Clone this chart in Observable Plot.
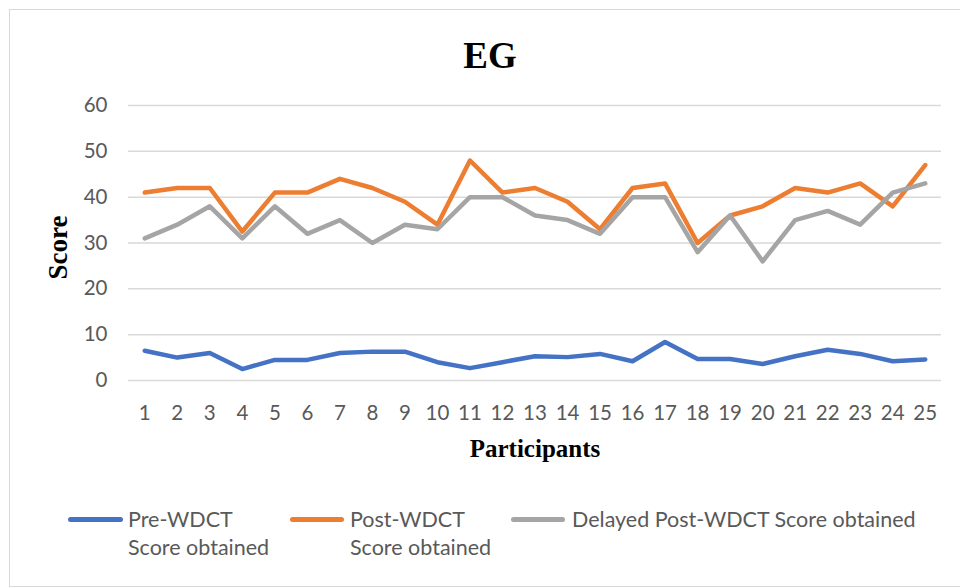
<!DOCTYPE html>
<html>
<head>
<meta charset="utf-8">
<script src="https://cdn.jsdelivr.net/npm/d3@7"></script>
<script src="https://cdn.jsdelivr.net/npm/@observablehq/plot@0.6"></script>
<style>
  body { margin: 0; background: #fff; }
  #wrap { position: relative; width: 960px; height: 587px; overflow: hidden; background: #fff; }
  #frame { position: absolute; left: 9px; top: 9px; width: 970px; height: 578px; border: 1px solid #d9d9d9; box-sizing: border-box; }
  .serif { position: absolute; font-family: "Liberation Serif", "Times New Roman", serif; font-weight: bold; color: #000; white-space: nowrap; }
  .leg { position: absolute; font-family: Lato, sans-serif; font-size: 21.5px; line-height: 28px; color: #595959; white-space: nowrap; }
  .swatch { position: absolute; height: 5px; border-radius: 3px; }
  #chart { position: absolute; left: 0; top: 0; }
</style>
</head>
<body>
<div id="wrap">
  <div id="frame"></div>
  <div id="chart"></div>
</div>
<script>
const participants = [1,2,3,4,5,6,7,8,9,10,11,12,13,14,15,16,17,18,19,20,21,22,23,24,25];
const preScores = [6.5,5,6,2.5,4.5,4.5,6,6.3,6.3,4,2.7,4,5.3,5.1,5.8,4.2,8.4,4.7,4.7,3.6,5.3,6.7,5.8,4.2,4.6];
const postScores = [41,42,42,32.5,41,41,44,42,39,34,48,41,42,39,33,42,43,30,36,38,42,41,43,38,47];
const delayedScores = [31,34,38,31,38,32,35,30,34,33,40,40,36,35,32,40,40,28,36,26,35,37,34,41,43];
const yTicks = [0,10,20,30,40,50,60];
const seriesNames = ["Pre-WDCT Score obtained", "Post-WDCT Score obtained", "Delayed Post-WDCT Score obtained"];
const legendLines = [["Pre-WDCT", "Score obtained"], ["Post-WDCT", "Score obtained"], ["Delayed Post-WDCT Score obtained"]];
const seriesColors = ["#4472C4", "#ED7D31", "#A5A5A5"];
const titleText = "EG";
const xLabel = "Participants";
const yLabel = "Score";

const allSeries = [preScores, postScores, delayedScores];
const rows = allSeries.flatMap((vals, si) => vals.map((v, i) => ({series: seriesNames[si], p: participants[i], v})));

const plot = Plot.plot({
  width: 960,
  height: 480,
  marginTop: 105,
  marginBottom: 100,
  marginLeft: 128,
  marginRight: 19,
  style: {fontFamily: "Lato, sans-serif", fontSize: "20px", color: "#595959", background: "transparent"},
  x: {type: "point", domain: participants, padding: 0.5, round: false, label: null},
  y: {domain: [0, 60], ticks: yTicks, label: null},
  color: {domain: seriesNames, range: seriesColors},
  marks: [
    Plot.gridY(yTicks, {stroke: "#d9d9d9", strokeOpacity: 1, strokeWidth: 1.5}),
    Plot.axisY(yTicks, {tickSize: 0, tickPadding: 21, fill: "#595959", fontSize: 20.5, label: null}),
    Plot.axisX(participants, {tickSize: 0, tickPadding: 25, fill: "#595959", fontSize: 20.5, label: null}),
    Plot.line(rows, {x: "p", y: "v", z: "series", stroke: "series", strokeWidth: 4.5, strokeLinejoin: "round", strokeLinecap: "round"})
  ]
});
document.getElementById("chart").appendChild(plot);

const wrap = document.getElementById("wrap");
function addDiv(cls, text, css) {
  const d = document.createElement("div");
  d.className = cls;
  d.textContent = text;
  Object.assign(d.style, css);
  wrap.appendChild(d);
  return d;
}
// title
addDiv("serif", titleText, {left: "290px", width: "400px", top: "37px", textAlign: "center", fontSize: "37px", lineHeight: "37px"});
// x label
addDiv("serif", xLabel, {left: "335px", width: "400px", top: "436px", textAlign: "center", fontSize: "25px", lineHeight: "25px"});
// y label
addDiv("serif", yLabel, {left: "-42px", width: "200px", top: "233.5px", height: "27px", textAlign: "center", fontSize: "27px", lineHeight: "27px", transform: "rotate(-90deg)"});

// legend
const legendPos = [{x1: 68, x2: 123, tx: 128}, {x1: 290, x2: 344, tx: 350}, {x1: 511, x2: 565, tx: 572}];
legendPos.forEach((p, i) => {
  const s = document.createElement("div");
  s.className = "swatch";
  Object.assign(s.style, {left: p.x1 + "px", width: (p.x2 - p.x1) + "px", top: "517px", background: seriesColors[i]});
  wrap.appendChild(s);
  const t = document.createElement("div");
  t.className = "leg";
  t.style.left = p.tx + "px";
  t.style.top = "504.7px";
  t.innerHTML = legendLines[i].join("<br>");
  wrap.appendChild(t);
});
</script>
</body>
</html>
